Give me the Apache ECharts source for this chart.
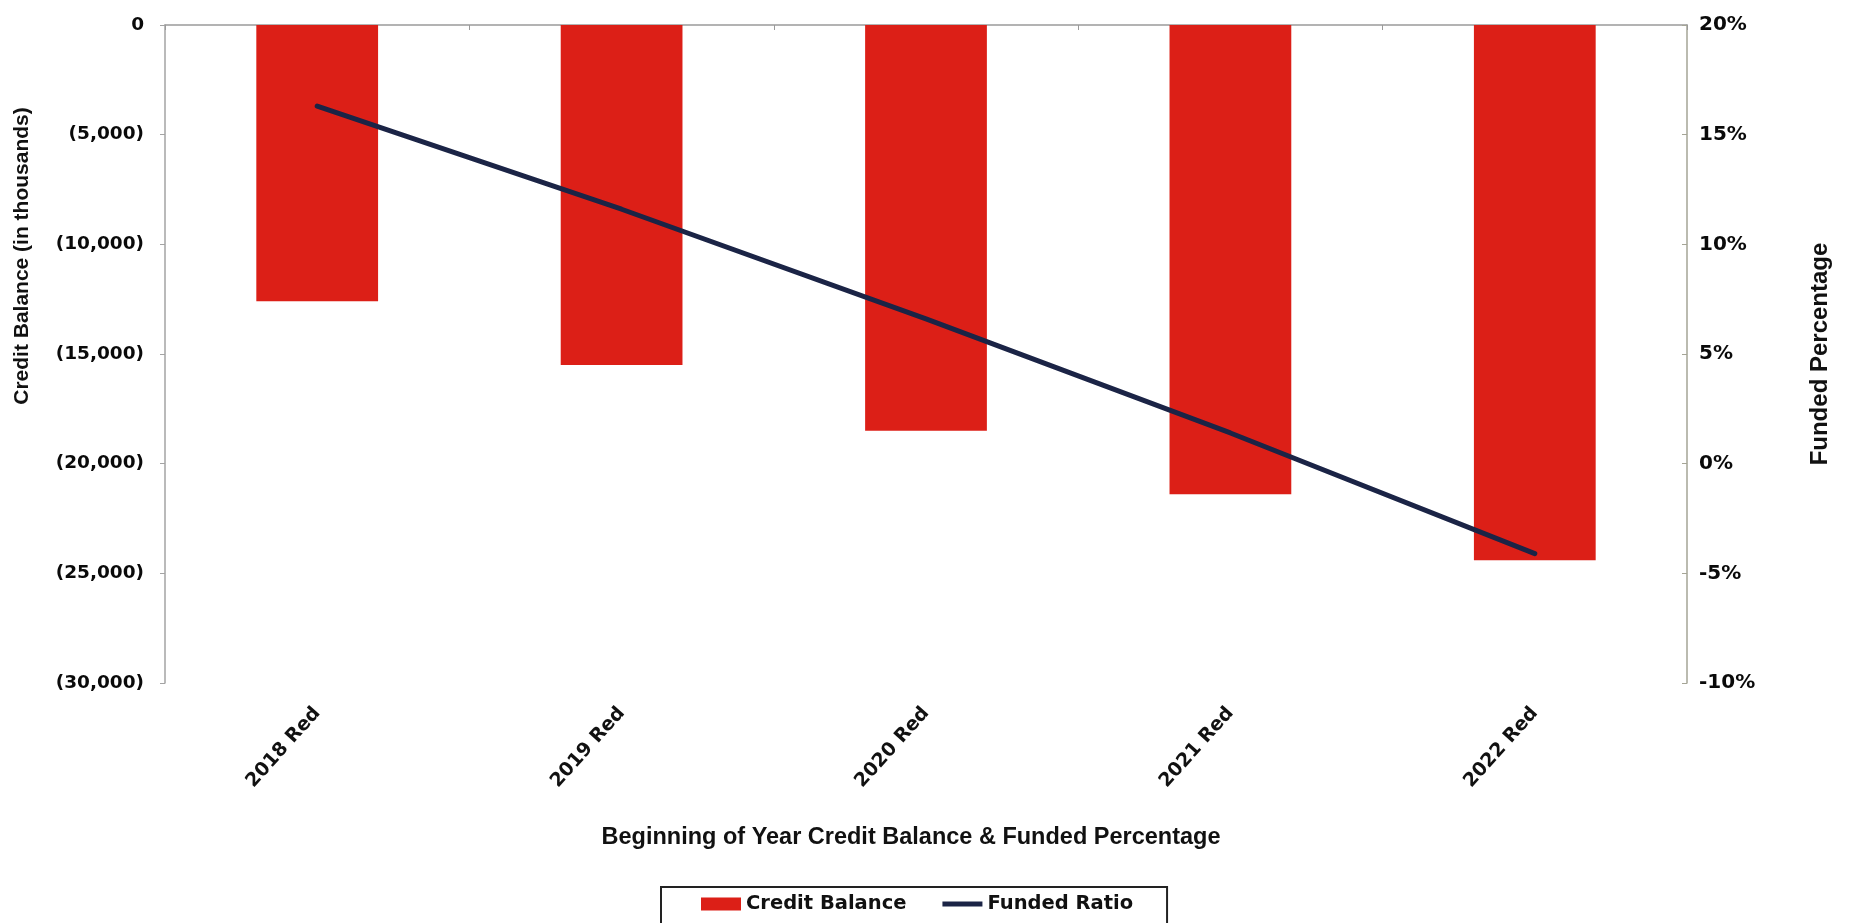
<!DOCTYPE html>
<html>
<head>
<meta charset="utf-8">
<title>Beginning of Year Credit Balance &amp; Funded Percentage</title>
<script src="https://cdn.jsdelivr.net/npm/echarts@6/dist/echarts.min.js"></script>
<style>
  html, body { margin: 0; padding: 0; background: #ffffff; }
  #chart { width: 1850px; height: 923px; }
</style>
</head>
<body>
<div id="chart"></div>
<script>
// Plan years shown along the category axis
const categories = ['2018 Red', '2019 Red', '2020 Red', '2021 Red', '2022 Red'];
// Beginning-of-year credit balance, in thousands
const creditBalance = [-12600, -15500, -18500, -21400, -24400];
// Funded ratio, percent
const fundedRatio = [16.3, 11.6, 6.6, 1.4, -4.1];

const BOLD_TICK = 'DejaVu Sans';
const BOLD_NAME = 'Liberation Sans';

function formatThousands(v) {
  if (v === 0) return '0';
  const s = Math.abs(v).toLocaleString('en-US');
  return v < 0 ? '(' + s + ')' : s;
}

const chart = echarts.init(document.getElementById('chart'), null, { renderer: 'canvas' });

const option = {
  backgroundColor: '#ffffff',
  animation: false,
  grid: { left: 165, right: 163, top: 25, height: 658 },
  legend: {
    left: 661,
    top: 887,
    padding: [7, 34, 20, 40],
    itemGap: 36,
    borderColor: '#222222',
    borderWidth: 2,
    itemWidth: 40,
    itemHeight: 13,
    symbolKeepAspect: true,
    textStyle: { fontFamily: BOLD_TICK, fontWeight: 'bold', fontSize: 19.5, color: '#111111' },
    data: [
      { name: 'Credit Balance', icon: 'rect' },
      { name: 'Funded Ratio', icon: 'path://M0,0 L40,0 L40,5 L0,5 Z', itemStyle: { color: '#1b2446' } }
    ]
  },
  xAxis: [
    {
      type: 'category',
      data: categories,
      position: 'bottom',
      axisLine: { show: false, onZero: false },
      axisTick: { show: false },
      axisLabel: {
        rotate: 48,
        margin: 27,
        fontFamily: BOLD_TICK,
        fontWeight: 'bold',
        fontSize: 19,
        color: '#111111'
      },
      name: 'Beginning of Year Credit Balance & Funded Percentage',
      nameLocation: 'middle',
      nameGap: 143,
      nameTextStyle: {
        fontFamily: BOLD_NAME,
        fontWeight: 'bold',
        fontSize: 23.5,
        color: '#111111',
        padding: [0, 30, 0, 0]
      }
    },
    {
      type: 'category',
      data: categories,
      position: 'top',
      axisLine: { show: true, onZero: false, lineStyle: { color: '#9a9a9a', width: 1.5 } },
      axisTick: { show: true, inside: true, length: 5, lineStyle: { color: '#9a9a9a' } },
      axisLabel: { show: false }
    }
  ],
  yAxis: [
    {
      type: 'value',
      min: -30000,
      max: 0,
      interval: 5000,
      position: 'left',
      splitLine: { show: false },
      axisLine: { show: true, onZero: false, lineStyle: { color: '#a3a3a3', width: 1.5 } },
      axisTick: { show: true, length: 5, lineStyle: { color: '#a3a3a3' } },
      axisLabel: {
        margin: 21,
        formatter: formatThousands,
        fontFamily: BOLD_TICK,
        fontWeight: 'bold',
        fontSize: 18.5,
        color: '#0a0a0a'
      }
    },
    {
      type: 'value',
      min: -10,
      max: 20,
      interval: 5,
      position: 'right',
      splitLine: { show: false },
      axisLine: { show: true, onZero: false, lineStyle: { color: '#a5a596', width: 1.5 } },
      axisTick: { show: true, inside: true, length: 5, lineStyle: { color: '#a5a596' } },
      axisLabel: {
        margin: 12,
        formatter: '{value}%',
        fontFamily: BOLD_TICK,
        fontWeight: 'bold',
        fontSize: 20,
        color: '#0a0a0a'
      }
    }
  ],
  graphic: [
    {
      type: 'text',
      x: 22,
      y: 256,
      rotation: Math.PI / 2,
      style: {
        text: 'Credit Balance (in thousands)',
        fontFamily: BOLD_NAME,
        fontWeight: 'bold',
        fontSize: 21,
        fill: '#111111',
        align: 'center',
        verticalAlign: 'middle'
      }
    },
    {
      type: 'text',
      x: 1820,
      y: 354,
      rotation: Math.PI / 2,
      style: {
        text: 'Funded Percentage',
        fontFamily: BOLD_NAME,
        fontWeight: 'bold',
        fontSize: 24,
        fill: '#111111',
        align: 'center',
        verticalAlign: 'middle'
      }
    }
  ],
  series: [
    {
      name: 'Credit Balance',
      type: 'bar',
      xAxisIndex: 0,
      yAxisIndex: 0,
      data: creditBalance,
      barWidth: '40%',
      itemStyle: { color: '#dc1f17' }
    },
    {
      name: 'Funded Ratio',
      type: 'line',
      xAxisIndex: 0,
      yAxisIndex: 1,
      data: fundedRatio,
      showSymbol: false,
      symbol: 'none',
      lineStyle: { color: '#1b2446', width: 5, cap: 'round' },
      itemStyle: { color: '#1b2446' },
      z: 5
    }
  ]
};

chart.setOption(option);
</script>
</body>
</html>
